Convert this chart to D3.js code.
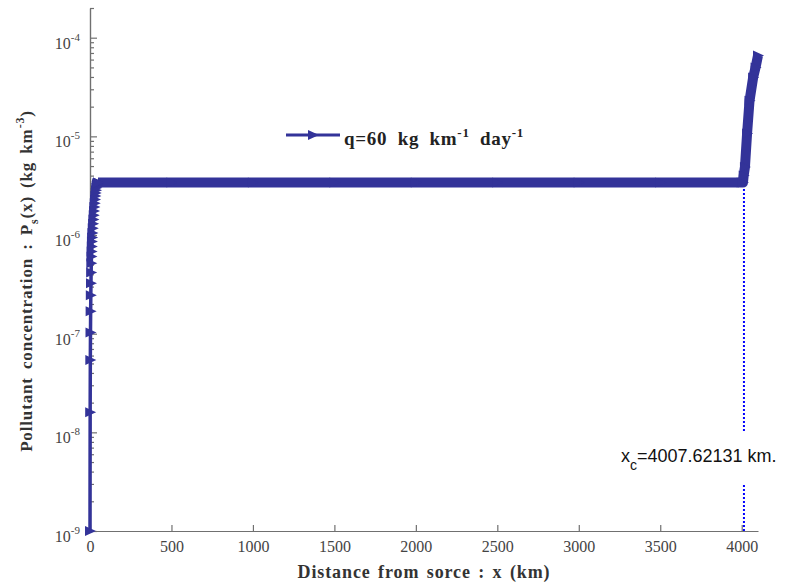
<!DOCTYPE html>
<html>
<head>
<meta charset="utf-8">
<script src="https://cdn.jsdelivr.net/npm/d3@7/dist/d3.min.js"></script>
<style>
body { margin: 0; background: #fff; }
text { font-family: "Liberation Serif", "DejaVu Serif", serif; }
</style>
</head>
<body>
<script>
// near the source: markers visible one by one (km, kg km^-3)
var nearX = [0, 1, 2, 3, 4, 5, 6, 7, 8, 9, 10, 11, 12, 13,
    15, 17, 19, 21, 23, 25, 27, 29, 31, 33, 35, 37, 39, 41, 43, 45, 47, 49];
var nearP = [1e-9, 1.6e-8, 5.4e-8, 1.03e-7, 1.69e-7, 2.45e-7, 3.24e-7, 4.18e-7, 5.17e-7, 6.07e-7, 6.82e-7, 7.67e-7, 8.61e-7, 9.46e-7,
    1.05e-6, 1.17e-6, 1.30e-6, 1.44e-6, 1.59e-6, 1.75e-6, 1.92e-6, 2.10e-6, 2.29e-6, 2.48e-6, 2.67e-6, 2.85e-6, 3.02e-6, 3.15e-6, 3.25e-6, 3.32e-6, 3.37e-6, 3.40e-6];
// plateau and the rise after x_c (dense markers -> thick band)
var farX = [49, 500, 1000, 1500, 2000, 2500, 3000, 3500, 4000, 4007.62, 4012, 4020, 4033, 4048, 4070, 4085, 4100];
var farP = [3.4e-6, 3.4e-6, 3.4e-6, 3.4e-6, 3.4e-6, 3.4e-6, 3.4e-6, 3.4e-6, 3.4e-6, 3.4e-6, 4.0e-6, 4.9e-6, 1.07e-5, 2.3e-5, 3.94e-5, 5.0e-5, 6.6e-5];
var xTicks = [0, 500, 1000, 1500, 2000, 2500, 3000, 3500, 4000];
var yTicks = [1e-9, 1e-8, 1e-7, 1e-6, 1e-5, 1e-4];
var yExp = ["-9", "-8", "-7", "-6", "-5", "-4"];
var xc = 4007.62131;

var W = 808, H = 585;
var lineColor = "#333399";
var axisColor = "#707070";

var svg = d3.select("body").append("svg")
    .attr("width", W)
    .attr("height", H);

var x = d3.scaleLinear().domain([0, 4100]).range([90, 758]);
var y = d3.scaleLog().domain([1e-9, 2e-4]).range([531, 8]);

//axes
var xAxis = svg.append("g").attr("transform", "translate(0,531)")
    .call(d3.axisBottom(x).tickValues(xTicks).tickFormat(d3.format("d"))
        .tickSizeInner(-6).tickSizeOuter(0).tickPadding(10));
xAxis.selectAll("text").attr("font-size", 16).attr("fill", "#444")
    .style("font-family", "Liberation Serif");

var minor = y.ticks().filter(function(v) { return yTicks.indexOf(v) < 0; });
svg.append("g").attr("transform", "translate(90,0)")
    .call(d3.axisLeft(y).tickValues(minor).tickSizeInner(-4).tickSizeOuter(0).tickFormat(""));
svg.append("g").attr("transform", "translate(90,0)")
    .call(d3.axisLeft(y).tickValues(yTicks).tickSizeInner(-7).tickSizeOuter(0).tickFormat(""));

svg.selectAll(".domain, .tick line").attr("stroke", axisColor).attr("stroke-width", 1.2);

var ylab = svg.append("g").selectAll("text").data(yTicks).enter().append("text")
    .attr("x", 80)
    .attr("y", function(d) { return y(d) + 11; })
    .attr("text-anchor", "end")
    .attr("fill", "#444")
    .attr("font-size", 16);
ylab.append("tspan").text("10");
ylab.append("tspan").attr("dy", -8).attr("font-size", 11).text(function(d, i) { return yExp[i]; });

// x_c marker line
svg.append("line")
    .attr("x1", x(xc) + 1).attr("x2", x(xc) + 1)
    .attr("y1", y(1e-9)).attr("y2", y(farP[9]) + 4)
    .attr("stroke", "#0000ff").attr("stroke-width", 2)
    .attr("stroke-dasharray", "2,2");

// data
var line = d3.line().x(function(d) { return x(d[0]); }).y(function(d) { return y(d[1]); });
var near = nearX.map(function(v, i) { return [v, nearP[i]]; });
var far = farX.map(function(v, i) { return [v, farP[i]]; });

svg.append("path").datum(near).attr("d", line)
    .attr("fill", "none").attr("stroke", lineColor).attr("stroke-width", 3.5);
svg.append("path").datum(far).attr("d", line)
    .attr("fill", "none").attr("stroke", lineColor).attr("stroke-width", 10)
    .attr("stroke-linejoin", "round");

var tri = "M-5,-5L6,0L-5,5Z";
svg.append("g").selectAll("path").data(near.concat(far)).enter().append("path")
    .attr("d", tri)
    .attr("transform", function(d) { return "translate(" + x(d[0]) + "," + y(d[1]) + ")"; })
    .attr("fill", lineColor);

// legend
svg.append("line").attr("x1", 286).attr("x2", 340).attr("y1", 135).attr("y2", 135)
    .attr("stroke", lineColor).attr("stroke-width", 3);
svg.append("path").attr("d", tri).attr("transform", "translate(313,135)").attr("fill", lineColor);
var leg = svg.append("text").attr("x", 344).attr("y", 145)
    .attr("font-size", 19).attr("font-weight", "bold").attr("fill", "#222")
    .attr("letter-spacing", 0.7).attr("word-spacing", 5);
leg.append("tspan").text("q=60 kg km");
leg.append("tspan").attr("dy", -8).attr("font-size", 13).text("-1");
leg.append("tspan").attr("dy", 8).text(" day");
leg.append("tspan").attr("dy", -8).attr("font-size", 13).text("-1");

// x_c label
svg.append("rect").attr("x", 612).attr("y", 432).attr("width", 190).attr("height", 52).attr("fill", "#fff");
var xcl = svg.append("text").attr("x", 621).attr("y", 462)
    .attr("font-size", 18).attr("fill", "#111")
    .style("font-family", "Liberation Sans, Arial, sans-serif");
xcl.append("tspan").text("x");
xcl.append("tspan").attr("dy", 8).attr("font-size", 14).text("c");
xcl.append("tspan").attr("dy", -8).text("=4007.62131 km.");

// axis titles
svg.append("text").attr("x", 424).attr("y", 578)
    .attr("text-anchor", "middle").attr("font-size", 18).attr("font-weight", "bold").attr("fill", "#333")
    .attr("letter-spacing", 0.9).attr("word-spacing", 2)
    .text("Distance from sorce : x (km)");

var yt = svg.append("text").attr("transform", "translate(32,281) rotate(-90)")
    .attr("text-anchor", "middle").attr("font-size", 17).attr("font-weight", "bold").attr("fill", "#333")
    .attr("letter-spacing", 0.85).attr("word-spacing", 3);
yt.append("tspan").text("Pollutant concentration : P");
yt.append("tspan").attr("dy", 6).attr("font-size", 12).text("s");
yt.append("tspan").attr("dy", -6).text("(x) (kg km");
yt.append("tspan").attr("dy", -8).attr("font-size", 12).text("-3");
yt.append("tspan").attr("dy", 8).text(")");
</script>
</body>
</html>
